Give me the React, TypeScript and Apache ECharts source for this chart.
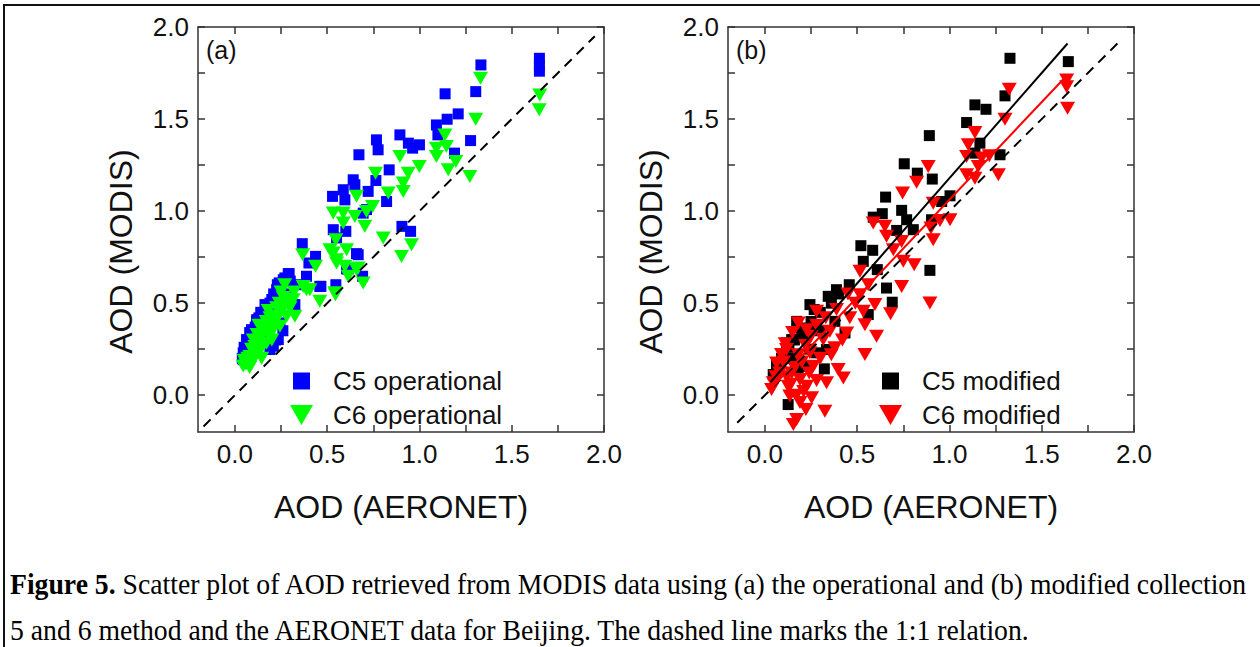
import React, { useEffect, useRef } from "react";
import * as echarts from "echarts";

// ---------- data ----------
const tickValues = [0, 0.25, 0.5, 0.75, 1, 1.25, 1.5, 1.75, 2];
const labelValues = [0, 0.5, 1, 1.5, 2];
const axisMin = -0.2;
const axisMax = 2.0;

const panelALabel = "(a)";
const panelBLabel = "(b)";
const xTitle = "AOD (AERONET)";
const yTitle = "AOD (MODIS)";

const c5Operational: number[][] = [
  [1.65, 1.83], [1.65, 1.79], [1.65, 1.76],
  [1.333, 1.794], [1.305, 1.649], [1.139, 1.637], [1.21, 1.528], [1.15, 1.499], [1.092, 1.468],
  [1.1, 1.414], [1.277, 1.383], [1.19, 1.315],
  [0.894, 1.414], [0.94, 1.369], [1.0, 1.36], [0.963, 1.342], [0.767, 1.387], [0.776, 1.333],
  [0.672, 1.306], [0.836, 1.224], [0.764, 1.166], [0.641, 1.17], [0.65, 1.143], [0.587, 1.116],
  [0.529, 1.08], [0.722, 1.107], [0.822, 1.052], [0.596, 1.061], [0.695, 0.989], [0.713, 1.008],
  [0.533, 0.899], [0.601, 0.89], [0.551, 0.854], [0.905, 0.917], [0.952, 0.89], [0.365, 0.823],
  [0.668, 0.763], [0.437, 0.754], [0.401, 0.718], [0.614, 0.685], [0.692, 0.646], [0.547, 0.6],
  [0.466, 0.591], [0.388, 0.646], [0.289, 0.66], [0.262, 0.627], [0.226, 0.573], [0.334, 0.6],
  [0.325, 0.492], [0.163, 0.492], [0.117, 0.401], [0.078, 0.293], [0.045, 0.23], [0.045, 0.193],
  [0.235, 0.302], [0.208, 0.266], [0.24, 0.61], [0.46, 0.591], [0.659, 0.769], [0.316, 0.492],
  [0.09, 0.356], [0.063, 0.302], [0.04, 0.2], [0.244, 0.393], [0.19, 0.248], [0.118, 0.41],
  [0.271, 0.637], [0.294, 0.66], [0.605, 0.686], [0.1, 0.33], [0.14, 0.45], [0.2, 0.52],
  [0.17, 0.36], [0.12, 0.28], [0.06, 0.22], [0.22, 0.45], [0.28, 0.55], [0.15, 0.3],
  [0.05, 0.26], [0.08, 0.34], [0.11, 0.37], [0.13, 0.42], [0.16, 0.44], [0.19, 0.5],
  [0.21, 0.55], [0.23, 0.6], [0.25, 0.58], [0.3, 0.62], [0.18, 0.32], [0.22, 0.3], [0.26, 0.35],
];

const c6Operational: number[][] = [
  [1.652, 1.631], [1.649, 1.55], [1.331, 1.721], [1.305, 1.499], [1.138, 1.414], [1.092, 1.342],
  [1.146, 1.351], [1.092, 1.297], [1.197, 1.27], [1.156, 1.224], [1.273, 1.188], [0.999, 1.242],
  [0.894, 1.297], [0.939, 1.206], [0.912, 1.152], [0.912, 1.107], [0.762, 1.206], [0.831, 1.098],
  [0.746, 1.025], [0.659, 1.08], [0.533, 0.989], [0.587, 0.989], [0.65, 0.971], [0.713, 0.998],
  [0.704, 0.917], [0.587, 0.935], [0.804, 0.854], [0.903, 0.754], [0.957, 0.817], [0.547, 0.844],
  [0.533, 0.772], [0.551, 0.718], [0.605, 0.79], [0.659, 0.682], [0.695, 0.609], [0.614, 0.646],
  [0.545, 0.546], [0.46, 0.51], [0.367, 0.763], [0.437, 0.7], [0.388, 0.573], [0.325, 0.429],
  [0.515, 0.79], [0.551, 0.736], [0.596, 0.7], [0.668, 0.691], [0.542, 0.556], [0.406, 0.573],
  [0.37, 0.59], [0.316, 0.519], [0.262, 0.53], [0.226, 0.475], [0.19, 0.42], [0.153, 0.374],
  [0.135, 0.32], [0.108, 0.265], [0.081, 0.21], [0.045, 0.158], [0.117, 0.228], [0.172, 0.283],
  [0.208, 0.356], [0.244, 0.374], [0.28, 0.429], [0.298, 0.475], [0.145, 0.2], [0.25, 0.56],
  [0.2, 0.3], [0.18, 0.46], [0.13, 0.38], [0.22, 0.4], [0.1, 0.3], [0.3, 0.5], [0.06, 0.17],
  [0.27, 0.6], [0.07, 0.2], [0.09, 0.25], [0.11, 0.24], [0.13, 0.3], [0.15, 0.33], [0.16, 0.28],
  [0.18, 0.34], [0.19, 0.38], [0.21, 0.43], [0.23, 0.42], [0.24, 0.5], [0.26, 0.47], [0.12, 0.33],
  [0.1, 0.19], [0.14, 0.25], [0.17, 0.4], [0.2, 0.35], [0.28, 0.52], [0.32, 0.56], [0.05, 0.19],
  [0.08, 0.15],
];

const c5Modified: number[][] = [
  [1.328, 1.83], [1.644, 1.812], [1.301, 1.626], [1.138, 1.577], [1.198, 1.553], [1.093, 1.481],
  [0.891, 1.41], [1.165, 1.369], [1.138, 1.315], [1.274, 1.306], [0.755, 1.257], [0.826, 1.206],
  [0.907, 1.174], [0.654, 1.076], [1.003, 1.083], [0.958, 1.052], [0.587, 0.967], [0.636, 0.986],
  [0.741, 1.004], [0.768, 0.953], [0.804, 0.899], [0.714, 0.895], [0.903, 0.953], [0.52, 0.812],
  [0.584, 0.787], [0.533, 0.727], [0.609, 0.682], [0.894, 0.678], [0.457, 0.6], [0.388, 0.573],
  [0.343, 0.537], [0.659, 0.582], [0.69, 0.505], [0.56, 0.438], [0.244, 0.492], [0.267, 0.465],
  [0.379, 0.401], [0.172, 0.401], [0.199, 0.365], [0.117, 0.284], [0.145, 0.302], [0.334, 0.248],
  [0.063, 0.166], [0.045, 0.112], [0.322, 0.143], [0.126, -0.051], [0.217, 0.157], [0.28, 0.23],
  [0.434, 0.338], [0.2, 0.33], [0.15, 0.2], [0.09, 0.2], [0.25, 0.4], [0.3, 0.35],
  [0.1, 0.22], [0.13, 0.26], [0.16, 0.3], [0.22, 0.33], [0.26, 0.38], [0.07, 0.14],
  [0.3, 0.45], [0.36, 0.5], [0.4, 0.55], [0.18, 0.15], [0.24, 0.25],
];

const c6Modified: number[][] = [
  [1.635, 1.712], [1.635, 1.676], [1.64, 1.559], [1.324, 1.662], [1.301, 1.499], [1.138, 1.427],
  [1.102, 1.36], [1.093, 1.297], [1.174, 1.288], [1.216, 1.3], [1.156, 1.242], [1.093, 1.197],
  [1.138, 1.179], [1.265, 1.197], [0.885, 1.242], [0.822, 1.156], [0.746, 1.098], [0.912, 1.043],
  [1.003, 0.953], [0.949, 0.949], [0.9, 0.908], [0.912, 0.844], [0.587, 0.935], [0.65, 0.917],
  [0.659, 0.863], [0.741, 0.835], [0.696, 0.79], [0.75, 0.727], [0.809, 0.709], [0.741, 0.591],
  [0.894, 0.501], [0.515, 0.673], [0.56, 0.6], [0.596, 0.492], [0.681, 0.443], [0.515, 0.546],
  [0.533, 0.456], [0.542, 0.383], [0.605, 0.32], [0.542, 0.221], [0.443, 0.338], [0.379, 0.257],
  [0.397, 0.139], [0.425, 0.094], [0.334, 0.067], [0.325, -0.087], [0.222, -0.078], [0.172, -0.132],
  [0.154, -0.159], [0.253, -0.014], [0.28, 0.456], [0.181, 0.392], [0.226, 0.356], [0.117, 0.248],
  [0.09, 0.221], [0.063, 0.175], [0.036, 0.031], [0.045, 0.067], [0.145, 0.121], [0.19, 0.085],
  [0.244, 0.23], [0.352, 0.347], [0.316, 0.302], [0.388, 0.465], [0.262, 0.157], [0.226, 0.049],
  [0.135, -0.005], [0.126, 0.049],
  [0.08, 0.12], [0.1, 0.18], [0.12, 0.1], [0.14, 0.06], [0.16, 0.15], [0.18, 0.22], [0.2, 0.18],
  [0.22, 0.27], [0.24, 0.12], [0.17, 0.0], [0.19, -0.04], [0.21, 0.02], [0.28, 0.08], [0.3, 0.2],
  [0.06, 0.1], [0.11, 0.28], [0.15, 0.34], [0.25, 0.32], [0.28, 0.38], [0.33, 0.42], [0.36, 0.22],
  [0.42, 0.3], [0.46, 0.42], [0.49, 0.5], [0.45, 0.55],
];

const oneToOneA: number[][] = [[-0.17, -0.17], [1.95, 1.95]];
const oneToOneB: number[][] = [[-0.15, -0.15], [1.93, 1.93]];
// regression lines of panel (b): [slope, intercept, xStart, xEnd]
const fitC5 = [1.143, 0.036, 0.03, 1.64];
const fitC6 = [1.06, 0.002, 0.03, 1.635];

const captionBold = "Figure 5.";
const captionLine1 = " Scatter plot of AOD retrieved from MODIS data using (a) the operational and (b) modified collection";
const captionLine2 = "5 and 6 method and the AERONET data for Beijing. The dashed line marks the 1:1 relation.";

// ---------- styles ----------
const SANS = "'Liberation Sans', Arial, sans-serif";
const SERIF = "'Liberation Serif', 'Times New Roman', serif";
const AXIS_COLOR = "#333";
const TRI = "path://M0,0L2,0L1,1.73Z";
const SQ_ICON = "path://M0,0M38,20M3,1.5L20,1.5L20,18.5L3,18.5Z";
const TRI_ICON = "path://M0,0M38,20M0,0L23,0L11.5,20Z";

function fitLine(f: number[]) {
  return [
    [f[2], f[0] * f[2] + f[1]],
    [f[3], f[0] * f[3] + f[1]],
  ];
}

function xAxis(gridIndex: number, position: "bottom" | "top", main: boolean) {
  return {
    type: "value",
    gridIndex,
    position,
    min: axisMin,
    max: axisMax,
    axisLine: { show: true, onZero: false, lineStyle: { color: AXIS_COLOR, width: 1.5 } },
    axisTick: { show: true, inside: true, length: 7, customValues: tickValues, lineStyle: { color: AXIS_COLOR, width: 1.5 } },
    axisLabel: {
      show: main,
      customValues: labelValues,
      formatter: (v: number) => v.toFixed(1),
      fontSize: 26,
      fontFamily: SANS,
      color: "#111",
      margin: 9,
    },
    splitLine: { show: false },
    name: main ? xTitle : "",
    nameLocation: "middle",
    nameGap: 59,
    nameTextStyle: { fontSize: 32, fontFamily: SANS, color: "#111" },
  };
}

function yAxis(gridIndex: number, position: "left" | "right", main: boolean) {
  return {
    type: "value",
    gridIndex,
    position,
    min: axisMin,
    max: axisMax,
    axisLine: { show: true, onZero: false, lineStyle: { color: AXIS_COLOR, width: 1.5 } },
    axisTick: { show: true, inside: true, length: 7, customValues: tickValues, lineStyle: { color: AXIS_COLOR, width: 1.5 } },
    axisLabel: {
      show: main,
      customValues: labelValues,
      formatter: (v: number) => v.toFixed(1),
      fontSize: 26,
      fontFamily: SANS,
      color: "#111",
      margin: 9,
    },
    splitLine: { show: false },
    name: main ? yTitle : "",
    nameLocation: "middle",
    nameGap: 61,
    nameTextStyle: { fontSize: 32, fontFamily: SANS, color: "#111", padding: [0, 44, 0, 0] },
  };
}

function dashed(data: number[][], xi: number, yi: number) {
  return {
    type: "line",
    xAxisIndex: xi,
    yAxisIndex: yi,
    data,
    symbol: "none",
    silent: true,
    z: 5,
    lineStyle: { color: "#000", width: 2, type: [10, 7] },
  };
}

function legendFor(names: string[], left: number) {
  return {
    data: [
      { name: names[0], icon: SQ_ICON },
      { name: names[1], icon: TRI_ICON },
    ],
    orient: "vertical",
    left,
    top: 363,
    itemWidth: 38,
    itemHeight: 20,
    itemGap: 8,
    selectedMode: false,
    textStyle: { fontSize: 26, fontFamily: SANS, color: "#111" },
  };
}

export default function App() {
  const ref = useRef<HTMLDivElement>(null);

  useEffect(() => {
    if (!ref.current) return;
    const chart = echarts.init(ref.current, null, { renderer: "svg" });
    const option: any = {
      animation: false,
      backgroundColor: "#fff",
      grid: [
        { left: 198, top: 27, width: 406, height: 405 },
        { left: 728, top: 27, width: 406, height: 405 },
      ],
      xAxis: [xAxis(0, "bottom", true), xAxis(0, "top", false), xAxis(1, "bottom", true), xAxis(1, "top", false)],
      yAxis: [yAxis(0, "left", true), yAxis(0, "right", false), yAxis(1, "left", true), yAxis(1, "right", false)],
      legend: [
        legendFor(["C5 operational", "C6 operational"], 285),
        legendFor(["C5 modified", "C6 modified"], 874),
      ],
      series: [
        {
          name: "C5 operational",
          type: "scatter",
          xAxisIndex: 0,
          yAxisIndex: 0,
          data: c5Operational,
          symbol: "rect",
          symbolSize: 11,
          itemStyle: { color: "#0000ff", opacity: 1 },
        },
        {
          name: "C6 operational",
          type: "scatter",
          xAxisIndex: 0,
          yAxisIndex: 0,
          data: c6Operational,
          symbol: TRI,
          symbolSize: [15, 13],
          itemStyle: { color: "#00ff00", opacity: 1 },
        },
        dashed(oneToOneA, 0, 0),
        {
          name: "C5 modified",
          type: "scatter",
          xAxisIndex: 2,
          yAxisIndex: 2,
          data: c5Modified,
          symbol: "rect",
          symbolSize: 11,
          itemStyle: { color: "#000000", opacity: 1 },
        },
        {
          name: "C6 modified",
          type: "scatter",
          xAxisIndex: 2,
          yAxisIndex: 2,
          data: c6Modified,
          symbol: TRI,
          symbolSize: [15, 13],
          itemStyle: { color: "#ff0000", opacity: 1 },
        },
        dashed(oneToOneB, 2, 2),
        {
          type: "line",
          xAxisIndex: 2,
          yAxisIndex: 2,
          data: fitLine(fitC5),
          symbol: "none",
          silent: true,
          z: 5,
          lineStyle: { color: "#000", width: 2 },
        },
        {
          type: "line",
          xAxisIndex: 2,
          yAxisIndex: 2,
          data: fitLine(fitC6),
          symbol: "none",
          silent: true,
          z: 5,
          lineStyle: { color: "#ff0000", width: 2 },
        },
      ],
      graphic: [
        { type: "text", left: 206, top: 37, style: { text: panelALabel, fontSize: 25, fontFamily: SANS, fill: "#111" } },
        { type: "text", left: 736, top: 37, style: { text: panelBLabel, fontSize: 25, fontFamily: SANS, fill: "#111" } },
        {
          type: "text",
          x: 10,
          y: 568,
          scaleY: 1.1,
          style: {
            text: "{b|" + captionBold + "}" + captionLine1,
            fontSize: 27.7,
            fontFamily: SERIF,
            fill: "#000",
            rich: { b: { fontSize: 27.7, fontFamily: SERIF, fontWeight: "bold", fill: "#000" } },
          },
        },
        {
          type: "text",
          x: 10,
          y: 614,
          scaleY: 1.1,
          style: { text: captionLine2, fontSize: 27.7, fontFamily: SERIF, fill: "#000" },
        },
      ],
    };
    chart.setOption(option);
    return () => chart.dispose();
  }, []);

  return (
    <div style={{ position: "fixed", left: 0, top: 0, width: 1260, height: 647, background: "#fff" }}>
      <div ref={ref} style={{ position: "absolute", left: 0, top: 0, width: 1260, height: 647 }} />
      <div
        style={{
          position: "absolute",
          left: 3,
          top: 4,
          width: 1257,
          height: 643,
          borderTop: "2px solid #111",
          borderLeft: "2px solid #111",
          boxSizing: "border-box",
          pointerEvents: "none",
        }}
      />
    </div>
  );
}
